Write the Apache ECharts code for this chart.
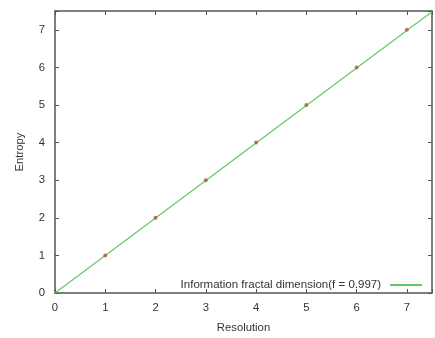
<!DOCTYPE html>
<html>
<head>
<meta charset="utf-8">
<script src="https://cdn.jsdelivr.net/npm/echarts@6/dist/echarts.min.js"></script>
<style>
  html, body { margin: 0; padding: 0; background: #fff; }
  #main { width: 435px; height: 338px; }
</style>
</head>
<body>
<div id="main"></div>
<script>
var resolution = [1, 2, 3, 4, 5, 6, 7];
var entropy = [1, 2, 3, 4, 5, 6, 7];
var fitLine = [[0, 0], [7.5, 7.48]];
var fitName = 'Information fractal dimension(f = 0.997)';

var myChart = echarts.init(document.getElementById('main'));

var font = 'Liberation Sans';

var axisCommon = {
    type: 'value',
    min: 0,
    max: 7.5,
    interval: 1,
    axisLine: { show: true, onZero: false, lineStyle: { color: '#555', width: 1.5 } },
    axisTick: { show: true, inside: true, length: 4, lineStyle: { color: '#555' } },
    splitLine: { show: false },
    axisLabel: { show: false }
};

var option = {
    animation: false,
    grid: { left: 55, top: 11, right: 1, bottom: 43, containLabel: false },
    legend: {
        data: [fitName],
        right: 8,
        bottom: 42,
        align: 'right',
        itemWidth: 32,
        itemHeight: 2,
        icon: 'rect',
        textStyle: { fontSize: 11.5, color: '#333', fontFamily: font, padding: [0, 4, 0, 0] }
    },
    xAxis: [
        Object.assign({}, axisCommon, {
            position: 'bottom',
            name: 'Resolution',
            nameLocation: 'middle',
            nameGap: 29,
            nameTextStyle: { fontSize: 11.3, color: '#333', fontFamily: font },
            axisLabel: {
                show: true, margin: 9, fontSize: 11.3, color: '#333', fontFamily: font,
                formatter: function (v) { return v % 1 === 0 ? v : ''; }
            }
        }),
        Object.assign({}, axisCommon, { position: 'top' })
    ],
    yAxis: [
        Object.assign({}, axisCommon, {
            position: 'left',
            name: 'Entropy',
            nameLocation: 'middle',
            nameGap: 30,
            nameTextStyle: { fontSize: 11.3, color: '#333', fontFamily: font },
            axisLabel: {
                show: true, margin: 10, fontSize: 11.3, color: '#333', fontFamily: font,
                formatter: function (v) { return v % 1 === 0 ? v : ''; }
            }
        }),
        Object.assign({}, axisCommon, { position: 'right' })
    ],
    series: [
        {
            name: fitName,
            type: 'line',
            data: fitLine,
            showSymbol: false,
            symbol: 'none',
            lineStyle: { color: '#66c766', width: 1.2 },
            itemStyle: { color: '#66c766' },
            z: 2
        },
        {
            name: 'data',
            type: 'scatter',
            data: resolution.map(function (r, i) { return [r, entropy[i]]; }),
            symbol: 'circle',
            symbolSize: 4,
            itemStyle: { color: '#b0553a' },
            z: 3
        }
    ]
};

myChart.setOption(option);
</script>
</body>
</html>
